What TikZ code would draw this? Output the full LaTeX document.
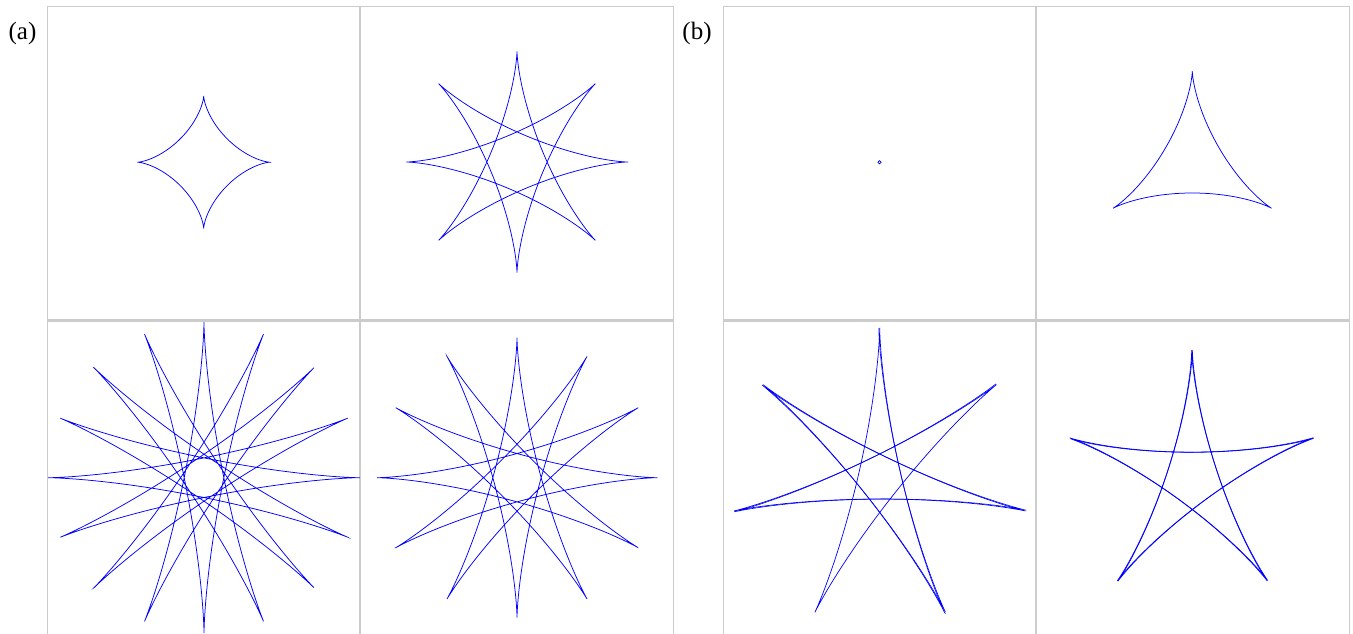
\documentclass[tikz,border=0pt]{standalone}
\usepackage{fontspec}
\setmainfont{Liberation Serif}
\definecolor{framegray}{RGB}{204,204,204}
\tikzset{
  panel/.style={draw=framegray, line width=1.5pt},
  curve/.style={blue, line width=0.75pt, line join=miter},
  lbl/.style={font=\fontsize{25}{30}\selectfont, inner sep=0pt}
}
% closed hypocycloid: [#1 options] #2 = outer radius A, #3 = k (R/r), #4 = t max (deg), #5 = samples
\newcommand{\hypo}[5][]{%
  \draw[curve,#1] plot[domain=0:#4, samples=#5, variable=\t]
   ({#2*(((#3)-1)/(#3)*cos(\t) + 1/(#3)*cos(((#3)-1)*\t))},
    {#2*(((#3)-1)/(#3)*sin(\t) - 1/(#3)*sin(((#3)-1)*\t))}) -- cycle;}
% open arc of hypocycloid: #6 = t start
\newcommand{\hypoarc}[6][]{%
  \draw[curve,#1] plot[domain=#6:#4, samples=#5, variable=\t]
   ({#2*(((#3)-1)/(#3)*cos(\t) + 1/(#3)*cos(((#3)-1)*\t))},
    {#2*(((#3)-1)/(#3)*sin(\t) - 1/(#3)*sin(((#3)-1)*\t))});}
\begin{document}
\begin{tikzpicture}[x=1pt,y=1pt]
\useasboundingbox (0,0) rectangle (1353,-633);
% labels
\node[lbl] (la) at (22.5,-33.5) {(a)};
\node[lbl] (lb) at (697,-33.5) {(b)};
% frames
\draw[panel] (47.7,-6.5) rectangle (360,-319.3);
\draw[panel] (360,-6.5) rectangle (673.3,-319.3);
\draw[panel] (47.7,-321) rectangle (360,-640);
\draw[panel] (360,-321) rectangle (673.3,-640);
\draw[panel] (723.3,-6.5) rectangle (1036,-319.3);
\draw[panel] (1036,-6.5) rectangle (1349.3,-319.3);
\draw[panel] (723.3,-321) rectangle (1036,-640);
\draw[panel] (1036,-321) rectangle (1349.3,-640);
% (a) curves
\begin{scope}[shift={(203.7,-162.2)}]
  \hypo{66.3}{4}{360}{400}
\end{scope}
\begin{scope}[shift={(517,-162)}]
  \hypo{110.7}{8/3}{1080}{900}
\end{scope}
\begin{scope}[shift={(204,-477.7)}]
  \hypo{155.5}{16/7}{2520}{2000}
\end{scope}
\begin{scope}[shift={(517,-477.7)}]
  \hypo{140}{12/5}{1800}{1400}
\end{scope}
% (b) curves
\draw[blue, line width=0.7pt] (879.5,-162.2) circle (1.6);
\begin{scope}[shift={(1192.3,-162.5)}, rotate=90]
  \hypo{91.5}{3}{360}{400}
\end{scope}
\begin{scope}[shift={(879.7,-477.7)}, rotate=90]
  \hypo[line width=0.7pt]{149.4}{7/3}{1080}{900}
\end{scope}
\begin{scope}[shift={(879.7,-477.7)}, rotate=90.35]
  \hypoarc[line width=0.6pt]{149.4}{7/3}{1080}{700}{308.57}
\end{scope}
\begin{scope}[shift={(1192.3,-477.7)}, rotate=90]
  \hypo[line width=0.8pt]{127.5}{5/2}{720}{700}
\end{scope}
\begin{scope}[shift={(1192.3,-477.7)}, rotate=90.3]
  \hypo[line width=0.6pt]{127.5}{5/2}{720}{700}
\end{scope}
\end{tikzpicture}
\end{document}
